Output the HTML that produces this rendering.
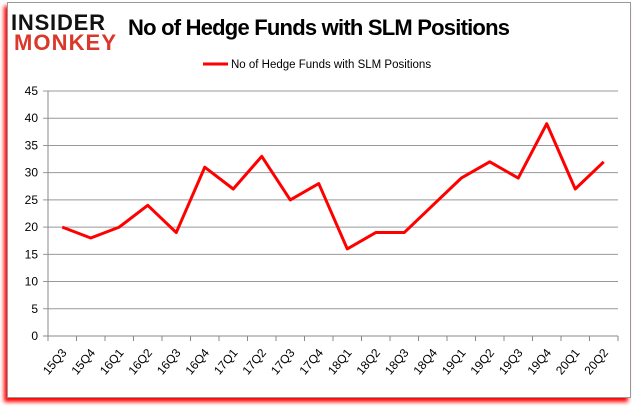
<!DOCTYPE html>
<html><head><meta charset="utf-8"><style>
body{margin:0;background:#fff;width:637px;height:408px;overflow:hidden;font-family:"Liberation Sans",sans-serif}
#frame{position:absolute;left:7px;top:2px;width:622px;height:394px;border:1px solid #999;background:#fff;box-shadow:-3px 4px 4px #f00}
</style></head><body>
<div id="frame"></div>
<svg id="chart" width="637" height="408" style="position:absolute;left:0;top:0">
<g>
<text x="11" y="30" font-size="22" font-weight="bold" fill="#111" font-family="Liberation Sans,sans-serif" textLength="94">INSIDER</text>
<text x="14" y="50" font-size="22" font-weight="bold" fill="#d9382a" font-family="Liberation Sans,sans-serif" textLength="102">MONKEY</text>
</g>
<text x="128" y="35" font-size="22" font-weight="bold" fill="#000" textLength="382">No of Hedge Funds with SLM Positions</text>
<line x1="203" y1="64" x2="228" y2="64" stroke="#f00" stroke-width="3"/>
<text x="231" y="68" font-size="11.5" fill="#000">No of Hedge Funds with SLM Positions</text>
<g id="grid"></g><g id="axes"></g>
</svg>
<script>
const categories=["15Q3","15Q4","16Q1","16Q2","16Q3","16Q4","17Q1","17Q2","17Q3","17Q4","18Q1","18Q2","18Q3","18Q4","19Q1","19Q2","19Q3","19Q4","20Q1","20Q2"];
const values=[20,18,20,24,19,31,27,33,25,28,16,19,19,24,29,32,29,39,27,32];
const yTicks=[0,5,10,15,20,25,30,35,40,45];
const NS="http://www.w3.org/2000/svg";
const svg=document.getElementById('chart');
const L=48,R=618,T=91,B=336,yMax=45;
const band=(R-L)/categories.length;
const xS=i=>L+band*(i+0.5);
const yS=v=>B-(v/yMax)*(B-T);
function mk(tag,attrs,parent){const e=document.createElementNS(NS,tag);for(const k in attrs)e.setAttribute(k,attrs[k]);(parent||svg).appendChild(e);return e;}
yTicks.forEach(t=>{
  const g=mk('line',{x1:L-5,x2:R,y1:yS(t),y2:yS(t),stroke:t===0?'#888':'#999','stroke-width':1});
  
  
  const tx=mk('text',{x:L-10,y:yS(t)+4,'font-size':12,'text-anchor':'end',fill:'#000'});
  tx.textContent=t;
  
  
});
const ax=mk('line',{x1:L,x2:L,y1:T,y2:B,stroke:'#888'});


for(let i=0;i<=categories.length;i++){
  const tk=mk('line',{x1:L+band*i,x2:L+band*i,y1:B,y2:B+5,stroke:'#888'});
  
  
}
categories.forEach((c,i)=>{
  const x=xS(i)+5,y=B+17;
  const tx=mk('text',{x:x,y:y,'font-size':12,'text-anchor':'end',fill:'#000',transform:`rotate(-50 ${x} ${y})`});
  tx.textContent=c;
  
  
});
const pl=mk('polyline',{points:values.map((v,i)=>xS(i)+','+yS(v)).join(' '),fill:'none',stroke:'#f00','stroke-width':3,'stroke-linejoin':'round'});


</script>
</body></html>
